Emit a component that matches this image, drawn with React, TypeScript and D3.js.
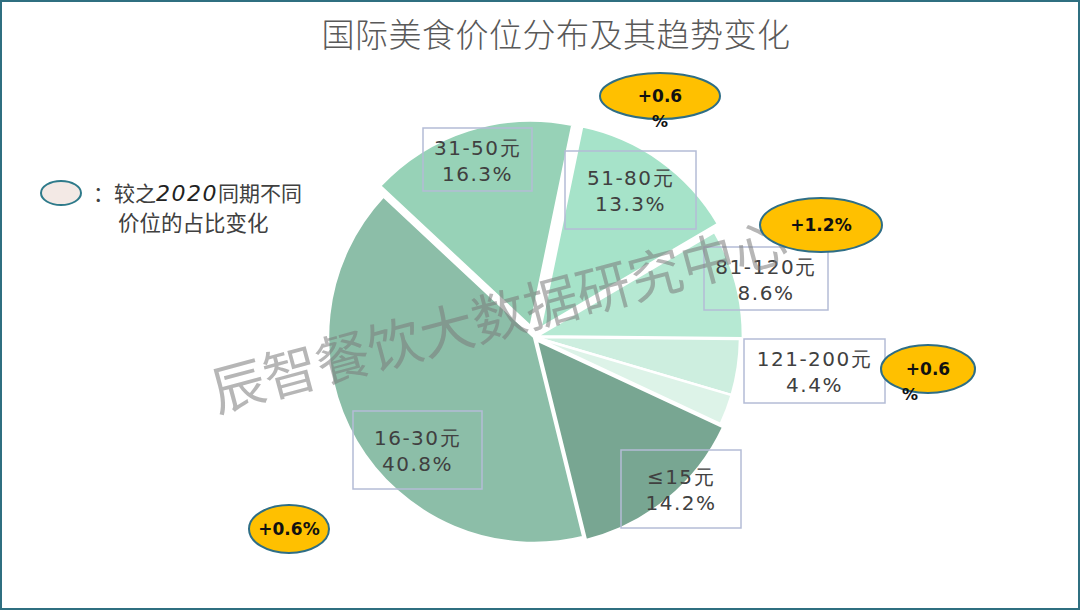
import React from "react";
import * as d3 from "d3";

const categories = ["51-80元", "81-120元", "121-200元", ">200元", "≤15元", "16-30元", "31-50元"];
const shares = [13.3, 8.6, 4.4, 2.4, 14.2, 40.8, 16.3];
const showLabel = [true, true, true, false, true, true, true];
const changeLabels = ["+0.6%", "+1.2%", "+0.6%", "+0.6%"];

const sliceColors = ["#a6e3c9", "#b6e9d3", "#cdeedf", "#ddf3e8", "#78a692", "#8cbea8", "#97d2b7"];
const explode = [11, 3, 0, 0, 4, 0, 11];
// label boxes: [x, y, w, h]
const labelBoxes: number[][] = [
  [565, 151, 131, 78],
  [704, 247, 124, 63],
  [744, 339, 141, 64],
  [0, 0, 0, 0],
  [621, 450, 120, 78],
  [353, 411, 129, 78],
  [423, 128, 109, 63],
];
// badges: [cx, cy, rx, ry, wrap]
const badges: number[][] = [
  [660, 96, 60, 23, 1],
  [821, 225, 61, 27, 0],
  [928, 369, 47, 24, 1],
  [289, 529, 40, 24, 0],
];

const W = 1080, H = 610;
const cx = 534, cy = 337, R = 206;
const startDeg = 11.7;

export default function App() {
  const pie = d3.pie<number>().sort(null).value((d) => d)
    .startAngle((startDeg * Math.PI) / 180)
    .endAngle((startDeg * Math.PI) / 180 + 2 * Math.PI);
  const arcs = pie(shares);
  const arc = d3.arc<d3.PieArcDatum<number>>().innerRadius(0).outerRadius(R);
  const hand = "'Comic Sans MS', 'DejaVu Sans', sans-serif";
  const cjk = "'Noto Sans CJK SC', sans-serif";
  return (
    <svg width={W} height={H} style={{ position: "absolute", left: 0, top: 0, background: "#fff" }}>
      <rect x={1} y={1} width={W - 2} height={H - 2} fill="#fff" stroke="#2f6f80" strokeWidth={2} />
      <text x={556} y={47} textAnchor="middle" fontFamily={cjk} fontSize={33} fontWeight={300} fill="#595959" letterSpacing={0.5}>
        国际美食价位分布及其趋势变化
      </text>
      <g transform={`translate(${cx},${cy})`}>
        {arcs.map((a, i) => {
          const mid = (a.startAngle + a.endAngle) / 2;
          const dx = Math.sin(mid) * explode[i];
          const dy = -Math.cos(mid) * explode[i];
          return (
            <path key={i} d={arc(a) || ""} transform={`translate(${dx},${dy})`} fill={sliceColors[i]} stroke="#fff" strokeWidth={2.5} />
          );
        })}
      </g>
      {labelBoxes.map((b, i) =>
        showLabel[i] ? (
          <g key={i}>
            <rect x={b[0]} y={b[1]} width={b[2]} height={b[3]} fill="none" stroke="#b4bcd6" strokeWidth={1.5} />
            <text x={b[0] + b[2] / 2} y={b[1] + b[3] / 2 - 5} textAnchor="middle" fontFamily={hand} fontSize={20} letterSpacing={1.5} fill="#404040">
              {categories[i]}
            </text>
            <text x={b[0] + b[2] / 2} y={b[1] + b[3] / 2 + 21} textAnchor="middle" fontFamily={hand} fontSize={20} letterSpacing={1.5} fill="#404040">
              {shares[i].toFixed(1)}%
            </text>
          </g>
        ) : null
      )}
      <text
        x={500}
        y={336}
        textAnchor="middle"
        fontFamily={cjk}
        fontSize={54}
        fill="#7a7a7a"
        fillOpacity={0.55}
        transform="rotate(-15,500,320)"
      >
        辰智餐饮大数据研究中心
      </text>
      {badges.map((b, i) => (
        <g key={i}>
          <ellipse cx={b[0]} cy={b[1]} rx={b[2]} ry={b[3]} fill="#ffc000" stroke="#2e6e86" strokeWidth={2} />
          {b[4] ? (
            <>
              <text x={b[0]} y={b[1] + 6} textAnchor="middle" fontFamily={hand} fontWeight={700} fontSize={17} fill="#111">
                {changeLabels[i].replace("%", "")}
              </text>
              <text x={b[0] - (i === 2 ? 18 : 0)} y={b[1] + 31} textAnchor="middle" fontFamily={hand} fontWeight={700} fontSize={16} fill="#111">
                %
              </text>
            </>
          ) : (
            <text x={b[0]} y={b[1] + 6} textAnchor="middle" fontFamily={hand} fontWeight={700} fontSize={17} fill="#111">
              {changeLabels[i]}
            </text>
          )}
        </g>
      ))}
      <ellipse cx={61} cy={193} rx={20} ry={12} fill="#f3e9e5" stroke="#2e7a8a" strokeWidth={2} />
      <text x={93} y={201} fontFamily={cjk} fontSize={21} fill="#404040">
        ：较之<tspan fontFamily={hand} fontStyle="italic" fontSize={22} letterSpacing={1.5} fill="#222">2020</tspan>同期不同
      </text>
      <text x={118} y={231} fontFamily={cjk} fontSize={21.5} fill="#404040">
        价位的占比变化
      </text>
    </svg>
  );
}
